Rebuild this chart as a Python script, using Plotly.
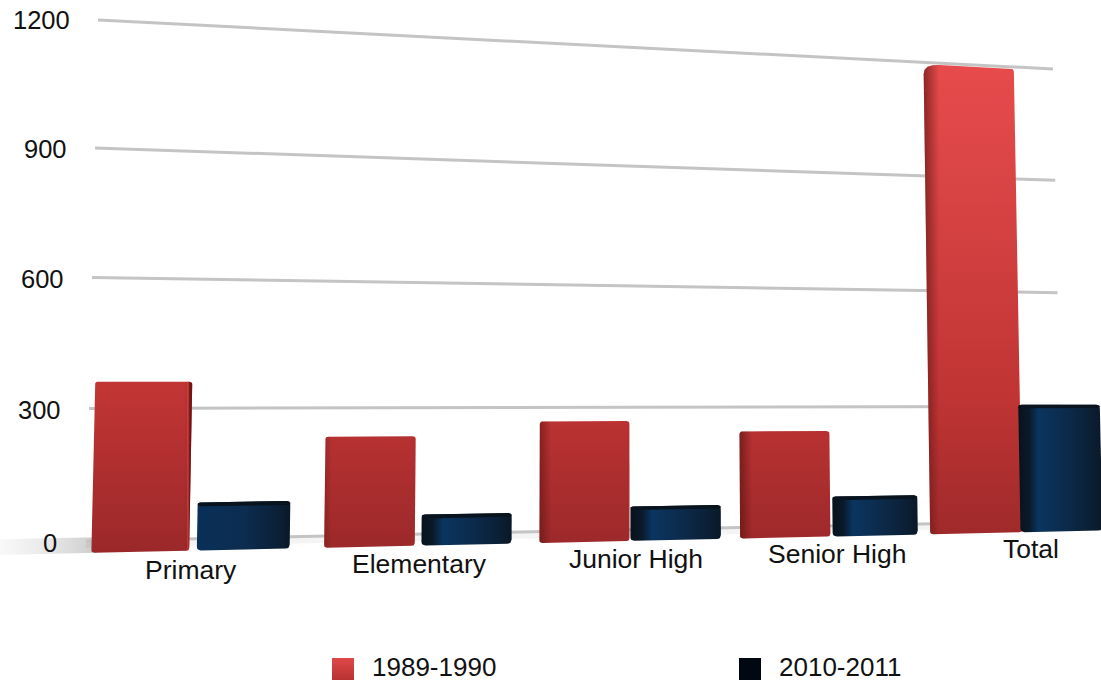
import numpy as np
import plotly.graph_objects as go

categories = ["Primary", "Elementary", "Junior High", "Senior High", "Total"]
series_1989 = [361, 232, 266, 239, 1195]
series_2010 = [83, 46, 57, 73, 304]
tick_values = [0, 300, 600, 900, 1200]
legend_names = ["1989-1990", "2010-2011"]

# Perspective of the picture: maps (position along floor 0..1, value 0..1200) to the page.
src = [(0, 0), (1, 0), (0, 1), (1, 1)]
dst = [(86, 541), (1062, 521), (98, 20), (1053, 69)]
A, b = [], []
for (u, v), (X, Y) in zip(src, dst):
    A.append([u, v, 1, 0, 0, 0, -u * X, -v * X]); b.append(X)
    A.append([0, 0, 0, u, v, 1, -u * Y, -v * Y]); b.append(Y)
H = np.append(np.linalg.solve(np.array(A, float), np.array(b, float)), 1).reshape(3, 3)


def project(u, value):
    p = H @ np.array([u, value / 1200.0, 1.0])
    return p[0] / p[2], p[1] / p[2]


RED_LEFT = [0.005, 0.2185, 0.429, 0.6375, 0.847]
RED_W = [0.088, 0.087, 0.092, 0.098, 0.106]
BLUE_LEFT = [0.100, 0.312, 0.522, 0.738, 0.951]
BLUE_W = [0.086, 0.089, 0.095, 0.095, 0.097]
LABEL_U = [0.0947, 0.310, 0.5275, 0.7425, 0.963]
FLOOR = -27
TL_RADIUS = [3, 3, 4, 4, 16]
RED_SHADE = [
    [[0, "rgba(70,10,10,0)"], [0.93, "rgba(70,10,10,0)"], [0.955, "rgba(240,70,70,0.5)"], [0.975, "rgba(90,15,15,0.8)"], [1, "rgba(90,15,15,0.8)"]],
    [[0, "rgba(70,10,10,0.25)"], [0.08, "rgba(70,10,10,0)"], [0.97, "rgba(70,10,10,0)"], [1, "rgba(240,90,90,0.4)"]],
    [[0, "rgba(70,10,10,0.45)"], [0.13, "rgba(70,10,10,0)"], [0.97, "rgba(70,10,10,0)"], [1, "rgba(240,90,90,0.4)"]],
    [[0, "rgba(60,10,10,0.5)"], [0.14, "rgba(70,10,10,0)"], [1, "rgba(70,10,10,0)"]],
    [[0, "rgba(60,10,10,0.55)"], [0.16, "rgba(70,10,10,0)"], [1, "rgba(70,10,10,0)"]],
]
RED_SCALE = [[0, "#e84b4c"], [0.25, "#d94444"], [0.68, "#c03434"], [1, "#9a2829"]]
BLUE_SCALE = [[0, "#08121c"], [0.13, "#0a1a2a"], [0.24, "#0a3560"], [0.55, "#0c2b4c"], [0.85, "#0b2036"], [1, "#0a1826"]]
BLUE_SCALE_0 = [[0, "#0a3058"], [0.5, "#0c2c50"], [0.88, "#0b2036"], [1, "#0a1826"]]


def poly(uL, uR, vB, vT, r=3, rTL=None):
    """Closed outline with softly rounded corners."""
    rTL = r if rTL is None else rTL
    corners = [project(uL, vB), project(uL, vT), project(uR, vT), project(uR, vB)]
    radii = [r, rTL, r, r]
    xs, ys = [], []
    n = 4
    for i in range(n):
        c = np.array(corners[i]); a = np.array(corners[i - 1]); d = np.array(corners[(i + 1) % n])
        ra = radii[i]
        p0 = c + (a - c) / np.linalg.norm(a - c) * (ra if i != 1 else ra * 0.6)
        p2 = c + (d - c) / np.linalg.norm(d - c) * ra
        for t in np.linspace(0, 1, 5):
            q = (1 - t) ** 2 * p0 + 2 * t * (1 - t) * c + t ** 2 * p2
            xs.append(float(q[0])); ys.append(float(q[1]))
    xs.append(xs[0]); ys.append(ys[0])
    return xs, ys


fig = go.Figure()


def face(xs, ys, gradient=None, color=None):
    kw = dict(fillgradient=gradient) if gradient else dict(fillcolor=color)
    fig.add_trace(go.Scatter(x=xs, y=ys, mode="lines", fill="toself", line=dict(width=0),
                             showlegend=False, hoverinfo="skip", **kw))


# floor shadow
xs, ys = zip(*[project(-0.09, 8), project(0.01, 8), project(0.01, -27), project(-0.09, -27)])
face(list(xs), list(ys), gradient=dict(type="horizontal",
     colorscale=[[0, "rgba(205,205,205,0)"], [0.5, "rgba(205,205,205,0.4)"], [1, "rgba(195,195,195,0.85)"]]))
xs, ys = zip(*[project(0, 0), project(0.95, 0), project(0.95, -16), project(0, -16)])
face(list(xs), list(ys), color="rgba(0,0,0,0.045)")

# gridlines
for tv in tick_values:
    pts = [project(0, tv), project(1, tv)]
    fig.add_trace(go.Scatter(x=[p[0] for p in pts], y=[p[1] for p in pts], mode="lines",
                             line=dict(color="#c4c4c4", width=3), showlegend=False, hoverinfo="skip"))

# bars
for i in range(len(categories)):
    xs, ys = poly(RED_LEFT[i], RED_LEFT[i] + RED_W[i], FLOOR, series_1989[i], rTL=TL_RADIUS[i])
    face(xs, ys, gradient=dict(type="vertical", colorscale=RED_SCALE, start=60, stop=556))
    face(xs, ys, gradient=dict(type="horizontal", colorscale=RED_SHADE[i]))

    xs, ys = poly(BLUE_LEFT[i], BLUE_LEFT[i] + BLUE_W[i], FLOOR, series_2010[i], r=4)
    face(xs, ys, gradient=dict(type="horizontal", colorscale=BLUE_SCALE_0 if i == 0 else BLUE_SCALE))
    capx, capy = poly(BLUE_LEFT[i], BLUE_LEFT[i] + BLUE_W[i], series_2010[i] - 9, series_2010[i], r=3)
    face(capx, capy, color="#08131e")

# legend
fig.add_trace(go.Scatter(x=[343], y=[669], mode="markers", name=legend_names[0], showlegend=False, hoverinfo="skip",
                         marker=dict(symbol="square", size=22, color="#e04849",
                                     gradient=dict(type="vertical", color="#b83232"))))
fig.add_trace(go.Scatter(x=[750], y=[669], mode="markers", name=legend_names[1], showlegend=False, hoverinfo="skip",
                         marker=dict(symbol="square", size=22, color="#020812")))

FONT = "Liberation Sans"
ann = []
for tv in tick_values:
    x, y = project(-0.0235, tv)
    ann.append(dict(x=x, y=y + 1.5, text=str(tv), xanchor="right", yanchor="middle", showarrow=False,
                    font=dict(family=FONT, size=25.5, color="#111")))
for c, u in zip(categories, LABEL_U):
    x, y = project(u, -70)
    ann.append(dict(x=x, y=y, text=c, xanchor="center", yanchor="middle", showarrow=False,
                    font=dict(family=FONT, size=26.5, color="#111")))
for name, x in zip(legend_names, [370, 777]):
    ann.append(dict(x=x, y=666.5, text=name, xanchor="left", yanchor="middle", showarrow=False,
                    font=dict(family=FONT, size=26, color="#111")))

fig.update_layout(
    width=1101, height=682, margin=dict(l=0, r=0, t=0, b=0), paper_bgcolor="white", plot_bgcolor="white",
    showlegend=False, annotations=ann,
    xaxis=dict(range=[0, 1101], visible=False),
    yaxis=dict(range=[682, 0], visible=False),
)
fig.write_html("out.html", config={"displayModeBar": False},
               post_script="document.body.style.margin='0';document.body.style.overflow='hidden';")
